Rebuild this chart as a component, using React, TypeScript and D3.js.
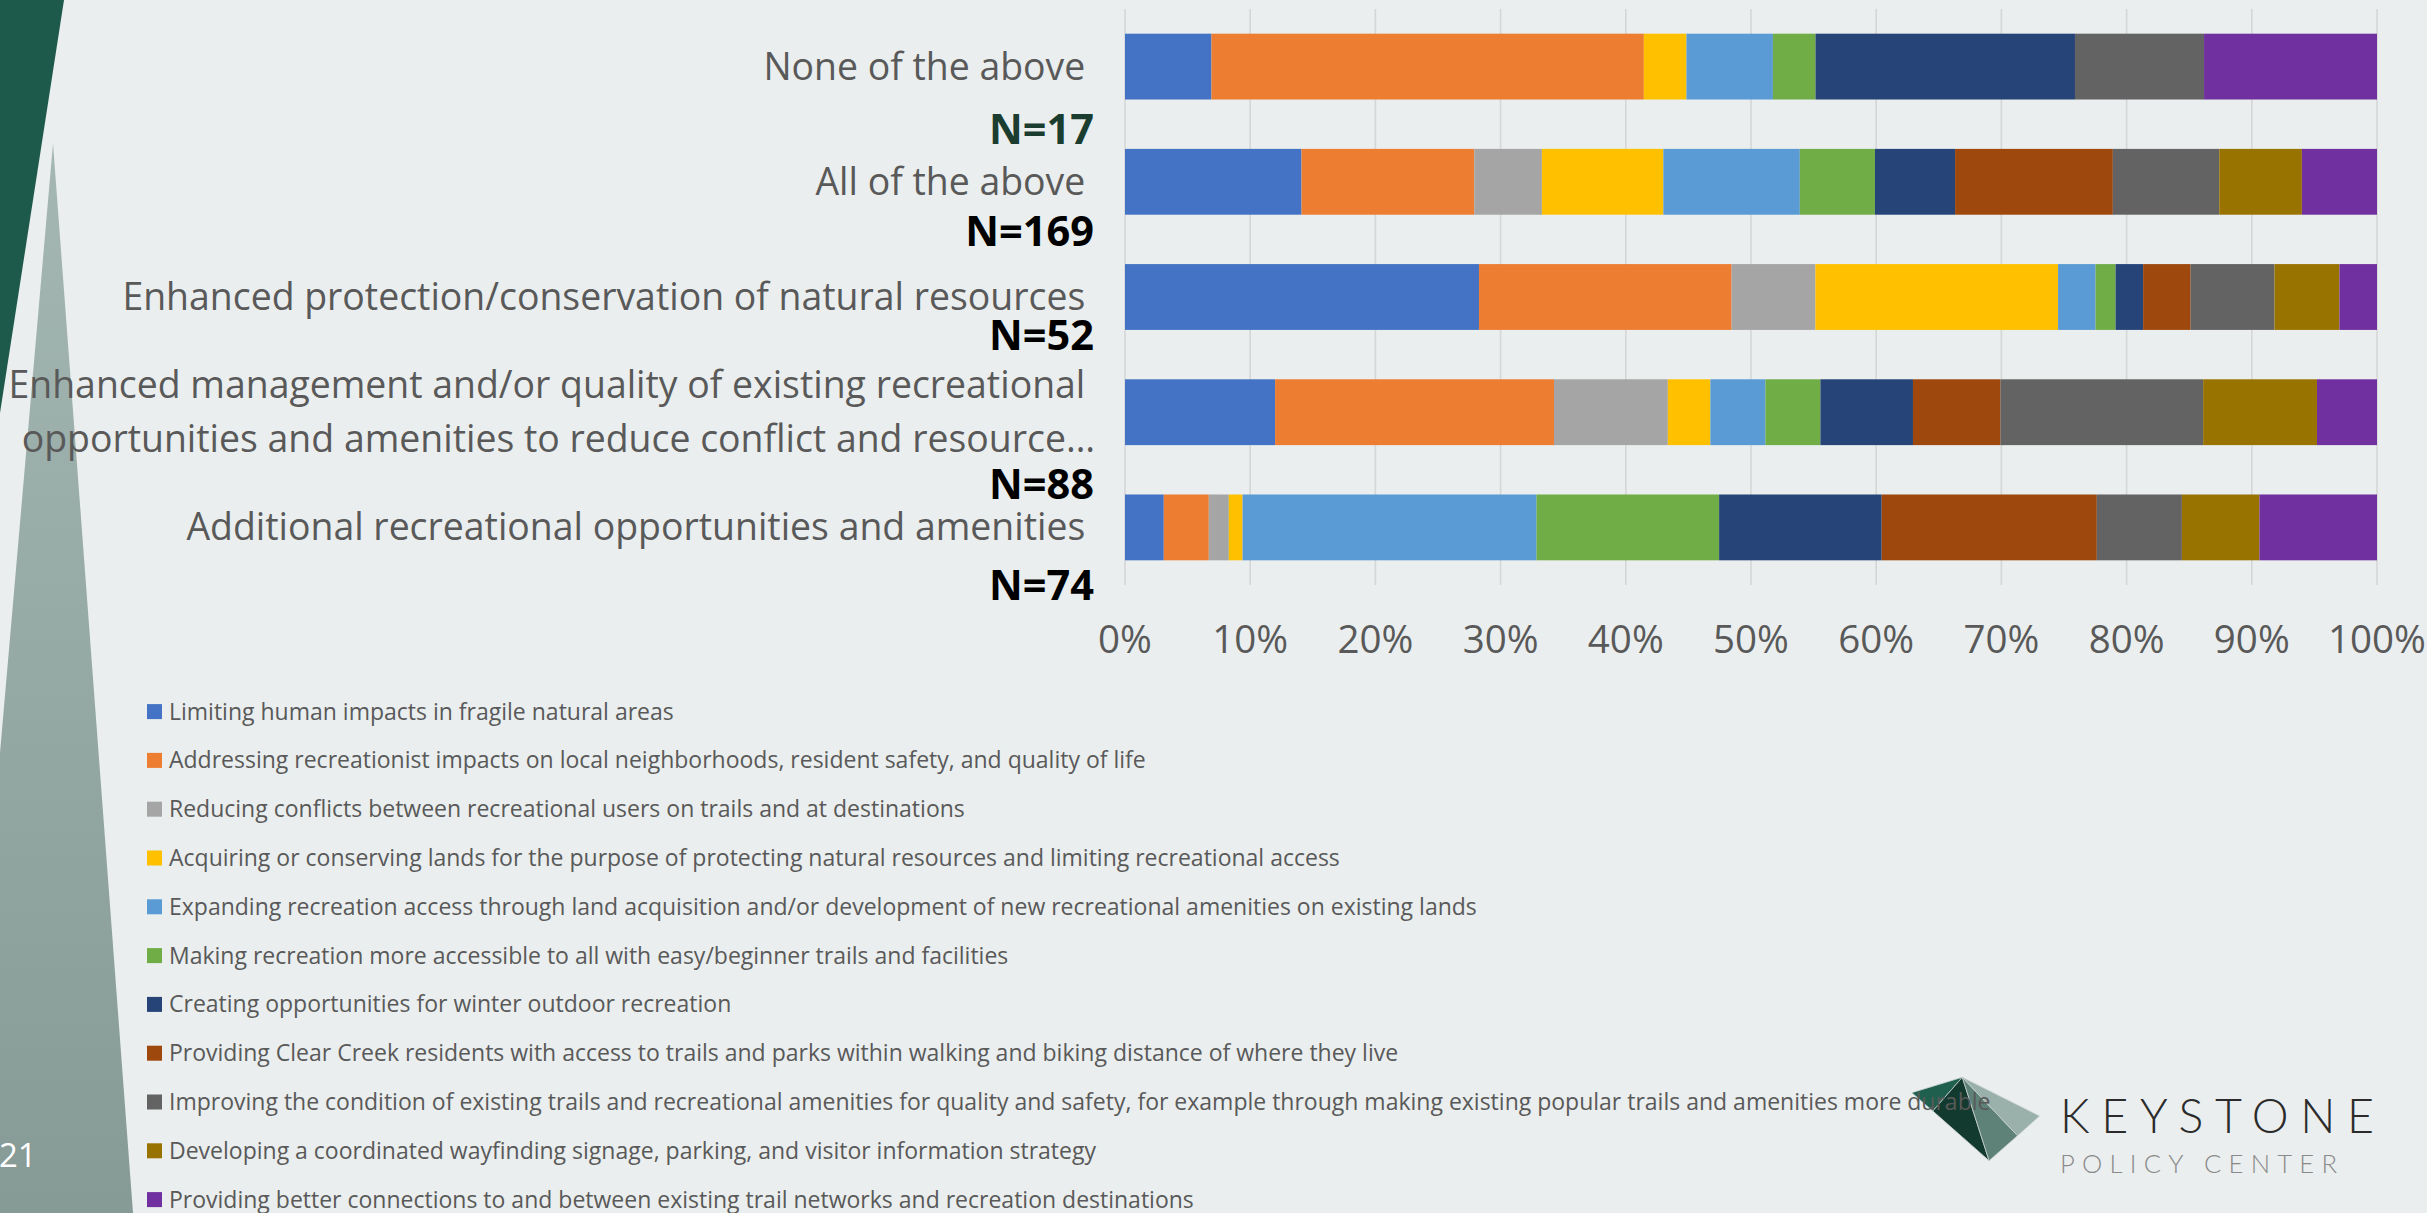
import React, { useEffect } from "react";
import * as d3 from "d3";

// ---------- DATA ----------
const categoryLines: string[][] = [
  ["None of the above "],
  ["All of the above "],
  ["Enhanced protection/conservation of natural resources "],
  [
    "Enhanced management and/or quality of existing recreational ",
    "opportunities and amenities to reduce conflict and resource…",
  ],
  ["Additional recreational opportunities and amenities "],
];

const nLabels = ["N=17", "N=169", "N=52", "N=88", "N=74"];

const seriesNames = [
  "Limiting human impacts in fragile natural areas",
  "Addressing recreationist impacts on local neighborhoods, resident safety, and quality of life",
  "Reducing conflicts between recreational users on trails and at destinations",
  "Acquiring or conserving lands for the purpose of protecting natural resources and limiting recreational access",
  "Expanding recreation access through land acquisition and/or development of new recreational amenities on existing lands",
  "Making recreation more accessible to all with easy/beginner trails and facilities",
  "Creating opportunities for winter outdoor recreation",
  "Providing Clear Creek residents with access to trails and parks within walking and biking distance of where they live",
  "Improving the condition of existing trails and recreational amenities for quality and safety, for example through making existing popular trails and amenities more durable",
  "Developing a coordinated wayfinding signage, parking, and visitor information strategy",
  "Providing better connections to and between existing trail networks and recreation destinations",
];

// values per series, in category order (top to bottom), in percent
const limiting = [6.9, 14.1, 28.3, 12.0, 3.1];
const addressing = [34.5, 13.8, 20.2, 22.3, 3.6];
const reducing = [0, 5.4, 6.7, 9.1, 1.6];
const acquiring = [3.4, 9.7, 19.4, 3.4, 1.1];
const expanding = [6.9, 10.9, 3.0, 4.4, 23.5];
const making = [3.4, 6.0, 1.6, 4.4, 14.6];
const winter = [20.7, 6.4, 2.2, 7.4, 13.0];
const clearCreek = [0, 12.6, 3.8, 7.0, 17.2];
const improving = [10.3, 8.5, 6.7, 16.2, 6.8];
const wayfinding = [0, 6.6, 5.2, 9.1, 6.2];
const connections = [13.8, 6.0, 3.0, 4.8, 9.4];

const seriesValues = [
  limiting, addressing, reducing, acquiring, expanding, making,
  winter, clearCreek, improving, wayfinding, connections,
];

const tickValues = [0, 0.1, 0.2, 0.3, 0.4, 0.5, 0.6, 0.7, 0.8, 0.9, 1];

// ---------- STYLE / LAYOUT ----------
const colors = [
  "#4472C4", "#ED7D31", "#A5A5A5", "#FFC000", "#5B9BD5", "#70AD47",
  "#264478", "#9E480E", "#636363", "#997300", "#7030A0",
];
const W = 2427;
const H = 1213;
const BG = "#EAEEEE";
const FONT = "'Open Sans', 'Noto Sans', sans-serif";
const LOGO_FONT = "Lato, 'Open Sans', sans-serif";
const TEXT = "#595959";
const nLabelDy = [77, 64, 53, 87, 73];
const nLabelColors = ["#1B3D30", "#000", "#000", "#000", "#000"];

export default function App() {
  useEffect(() => {
    document.body.style.margin = "0";
    document.body.style.background = BG;
  }, []);

  const x = d3.scaleLinear().domain([0, 1]).range([1125, 2377]);
  const y = d3
    .scaleBand<number>()
    .domain(d3.range(categoryLines.length))
    .range([9, 585])
    .paddingInner(0.4286)
    .paddingOuter(0.2143);
  const bw = y.bandwidth();

  const rows = categoryLines.map((_, i) => seriesValues.map((s) => s[i]));
  const stack = d3
    .stack<number[], number>()
    .keys(d3.range(seriesValues.length))
    .value((d, k) => d[k])
    .offset(d3.stackOffsetExpand);
  const layers = stack(rows);
  const fmt = d3.format(".0%");

  const legendY = d3
    .scaleLinear()
    .domain([0, seriesNames.length - 1])
    .range([711.6, 1199.6]);

  // decorative shapes
  const darkStrip = d3.line()([[0, 0], [64, 0], [0, 413]]) + "Z";
  const triangle = d3.line()([[53, 143.5], [-40, 1213], [133, 1213]]) + "Z";
  const apex: [number, number] = [1962.3, 1077.3];
  const left: [number, number] = [1911.8, 1092.7];
  const right: [number, number] = [2039.5, 1116];
  const bottom: [number, number] = [1989.1, 1160.7];
  const p1: [number, number] = [1932.8, 1111];
  const p2: [number, number] = [2017.5, 1135.7];
  const facet = (pts: [number, number][]) => d3.line()(pts) + "Z";

  return (
    <svg
      width={W}
      height={H}
      viewBox={`0 0 ${W} ${H}`}
      style={{ position: "fixed", left: 0, top: 0, display: "block", background: BG }}
      fontFamily={FONT}
    >
      <defs>
        <linearGradient id="tri" x1="0" y1="0" x2="0" y2="1">
          <stop offset="0" stopColor="#A4B7B3" />
          <stop offset="1" stopColor="#869A96" />
        </linearGradient>
      </defs>
      <rect width={W} height={H} fill={BG} />
      <path d={darkStrip} fill="#1E5A4B" />
      <path d={triangle} fill="url(#tri)" />
      <text x={-1} y={1167} fill="#fff" fontSize={33}>
        21
      </text>

      {/* gridlines */}
      {tickValues.map((t) => (
        <line
          key={t}
          x1={x(t)}
          x2={x(t)}
          y1={9}
          y2={585}
          stroke="#D6D6D6"
          strokeWidth={1.6}
        />
      ))}

      {/* bars */}
      {layers.map((layer, k) => (
        <g key={k} fill={colors[k]}>
          {layer.map((seg, i) => (
            <rect
              key={i}
              x={x(seg[0])}
              y={y(i)}
              width={Math.max(0, x(seg[1]) - x(seg[0]))}
              height={bw}
            />
          ))}
        </g>
      ))}

      {/* tick labels */}
      {tickValues.map((t) => (
        <text
          key={t}
          x={x(t)}
          y={653}
          textAnchor="middle"
          fontSize={38.5}
          fill={TEXT}
        >
          {fmt(t)}
        </text>
      ))}

      {/* category labels */}
      {categoryLines.map((lines, i) => {
        const c = (y(i) as number) + bw / 2;
        const pitch = 53.5;
        return (
          <g key={i}>
            {lines.map((ln, j) => (
              <text
                key={j}
                x={1095}
                y={c + 13 + (j - (lines.length - 1) / 2) * pitch}
                textAnchor="end"
                fontSize={37.4}
                fill={TEXT}
                style={{ whiteSpace: "pre" }}
              >
                {ln}
              </text>
            ))}
            <text
              x={1094}
              y={c + nLabelDy[i]}
              textAnchor="end"
              fontSize={41.5}
              fontWeight={700}
              fill={nLabelColors[i]}
            >
              {nLabels[i]}
            </text>
          </g>
        );
      })}

      {/* logo */}
      <g stroke="#C8D0CE" strokeWidth={0.8} strokeLinejoin="round">
        <path d={facet([apex, left, p1])} fill="#1F5F4D" />
        <path d={facet([apex, p1, bottom])} fill="#133A2E" />
        <path d={facet([apex, bottom, p2])} fill="#5E8278" />
        <path d={facet([apex, p2, right])} fill="#9AB0AA" />
      </g>
      <text
        x={2060}
        y={1132.7}
        fontSize={46.5}
        fontWeight={300}
        fontFamily={LOGO_FONT}
        fill="#2B2B2B"
        textLength={314}
        lengthAdjust="spacing"
      >
        KEYSTONE
      </text>
      <text
        x={2060}
        y={1173.3}
        fontSize={25.6}
        fontWeight={300}
        fontFamily={LOGO_FONT}
        fill="#8A8A8A"
        textLength={277}
        lengthAdjust="spacing"
      >
        POLICY CENTER
      </text>

      {/* legend */}
      {seriesNames.map((name, k) => {
        const cy = legendY(k);
        return (
          <g key={k}>
            <rect x={147} y={cy - 7.5} width={15} height={15} fill={colors[k]} />
            <text x={169} y={cy + 8} fontSize={23} fill={TEXT}>
              {name}
            </text>
          </g>
        );
      })}
    </svg>
  );
}
